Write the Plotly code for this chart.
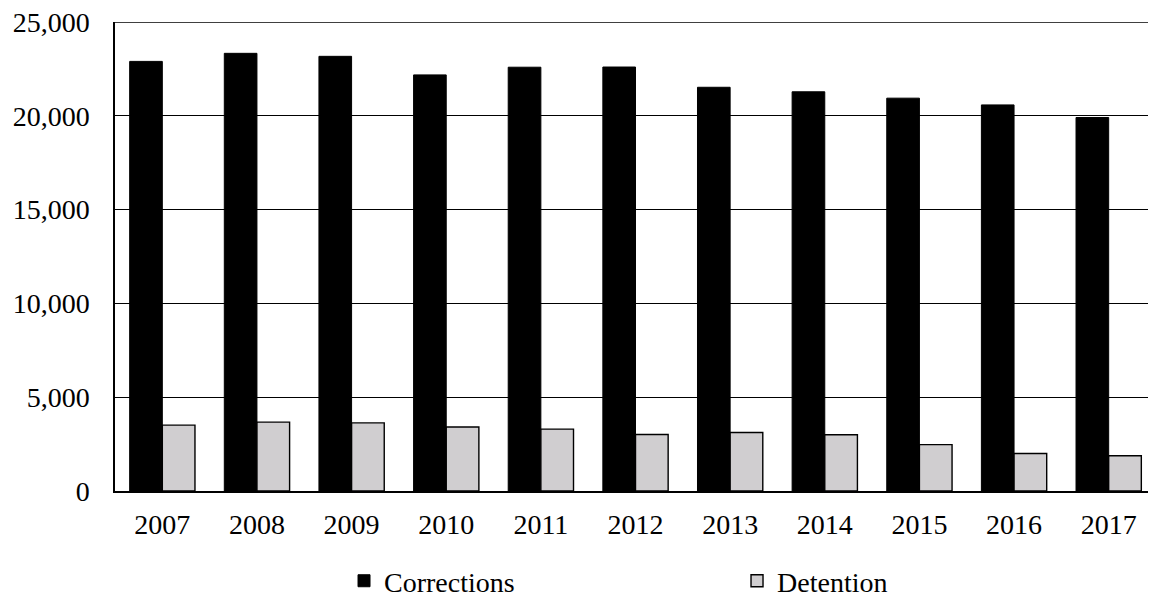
import plotly.graph_objects as go

years = ["2007", "2008", "2009", "2010", "2011", "2012", "2013", "2014", "2015", "2016", "2017"]
corrections = [22900, 23330, 23170, 22180, 22590, 22600, 21520, 21280, 20940, 20580, 19910]
detention = [3510, 3670, 3630, 3410, 3300, 3010, 3120, 3000, 2470, 2000, 1880]
y_max = 25000

FONT = "Liberation Serif"

fig = go.Figure()
fig.add_trace(go.Bar(
    x=years, y=corrections, name="Corrections",
    marker=dict(color="#000000", line=dict(color="#000000", width=1)),
))
fig.add_trace(go.Bar(
    x=years, y=detention, name="Detention",
    marker=dict(color="#D0CED0", line=dict(color="#000000", width=1.4)),
))

# top gridline (plotly clips gridlines at the range ends)
fig.add_shape(type="line", xref="paper", x0=0, x1=1, yref="y", y0=y_max, y1=y_max,
              line=dict(color="black", width=1.5), layer="above")

fig.update_layout(
    width=1156, height=595,
    margin=dict(l=107, r=8, t=14, b=112, autoexpand=False),
    paper_bgcolor="white", plot_bgcolor="white",
    barmode="group", bargap=0.31, bargroupgap=0,
    font=dict(family=FONT, size=28, color="black"),
    showlegend=True,
    legend=dict(
        orientation="h", x=0.22, xanchor="left", y=-0.192, yanchor="middle",
        entrywidth=348, entrywidthmode="pixels", itemwidth=30,
        font=dict(family=FONT, size=28, color="black"),
        traceorder="normal", itemclick=False, bgcolor="rgba(0,0,0,0)",
    ),
)
fig.update_xaxes(
    showline=True, linecolor="black", linewidth=1.5,
    ticks="", ticklabelstandoff=8, showgrid=False,
    tickfont=dict(family=FONT, size=28),
)
fig.update_yaxes(
    range=[0, y_max], dtick=5000, tickformat=",",
    showline=True, linecolor="black", linewidth=1.5,
    showgrid=True, gridcolor="black", gridwidth=1.3,
    ticks="", ticklabelstandoff=18, ticklabeloverflow="allow",
    tickfont=dict(family=FONT, size=28),
    zeroline=False,
)

fig.write_html("out.html")
